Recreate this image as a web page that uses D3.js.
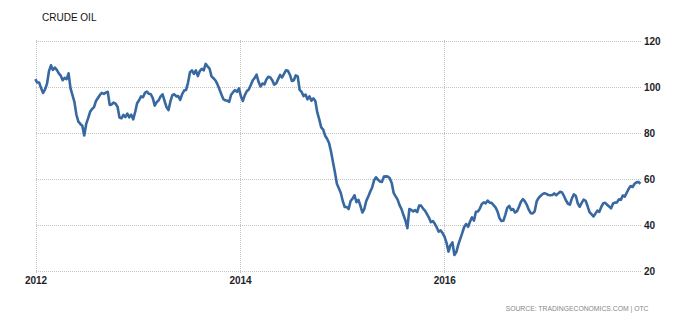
<!DOCTYPE html>
<html>
<head>
<meta charset="utf-8">
<script src="https://cdn.jsdelivr.net/npm/d3@7"></script>
<style>
  body { margin: 0; background: #fff; }
  #chart text { font-family: "Liberation Sans", Arial, sans-serif; }
</style>
</head>
<body>
<div id="chart"></div>
<script>
// weekly closes, first week starting 2012-01-02
const firstWeek = "2012-01-02";
const weeklyClose = [
  103, 101.5, 101.5, 99, 97, 98.5, 101, 106.5, 109, 107,
  108, 107, 105.5, 104.5, 102.5, 103.5, 103, 105.5, 99, 96,
  93, 87.5, 84.5, 83.5, 82.7, 78.5, 83.5, 86, 88.8, 90,
  90.8, 93.5, 94.8, 96.1, 97, 96.6, 97.1, 97.5, 91.8, 92,
  92.8, 92.3, 91, 86.3, 86, 87.4, 86.5, 88, 86.4, 87.5,
  85.5, 88.7, 92.5, 93.8, 95.5, 95.1, 97, 97.6, 96.6, 96.4,
  94.7, 91.5, 93, 93.8, 95.5, 96.4, 93.5, 90.8, 89.5, 93.3,
  96, 96.4, 95.5, 95.6, 94, 96.5, 98, 98.3, 101.5, 106,
  106.8, 105.3, 106.8, 104.3, 106.5, 107.5, 106.8, 109.6, 108.5, 107.5,
  104.2, 103.4, 102.4, 100.8, 98.7, 96.4, 94.3, 93.8, 93.6, 93.1,
  96.2, 97.3, 98.2, 97.5, 99, 95.5, 93.5, 96, 97.7, 98.5,
  100.3, 102.4, 103.5, 104.9, 101.8, 99.8, 101.1, 100.7, 102.8, 104,
  103.7, 102.5, 100.6, 101.1, 103, 104.8, 103.7, 105.3, 106.8, 106.6,
  104.9, 102.2, 102.5, 104.6, 104.2, 98.3, 97.4, 95.6, 96.3, 94.2,
  95.5, 93.6, 94.6, 93.5, 88.5, 85.5, 82, 81, 78.4, 77.1,
  75.2, 71.5, 67, 62.5, 57.5, 55.5, 53.5, 50, 47.4, 47.4,
  46.5, 50, 51, 52.5, 49.5, 50.5, 48, 45, 46.5, 50,
  51.9, 54, 55.9, 59, 60.3, 59.2, 58.5, 58.3, 60.6, 60.7,
  60.6, 59.9, 57.8, 53.5, 52, 50.6, 48.2, 46.5, 43.9, 41.5,
  38.2, 46.5, 46.1, 45.5, 46, 45.2, 48, 48, 46.7, 45.8,
  44.3, 42.8, 40.8, 41.3, 40.1, 38.5, 36.7, 37.2, 36, 34.4,
  31.8, 28, 30.8, 32, 26.5, 27.8, 31, 33.5, 36, 38.7,
  40, 38.8, 41.1, 42.9, 41.5, 45.3, 45.4, 46.7, 48.7, 49.4,
  49, 50.2, 49.3, 49.2, 48.2, 47.2, 45.5, 42.6, 41.3, 41.4,
  44, 47, 47.9, 46.1, 46.5, 45, 45.6, 47.5, 49.7, 50.8,
  49.8, 48.3, 46.2, 44.7, 44.6, 45.5, 49.8, 51.3, 52.2, 53,
  53.4, 53.1, 52.6, 52.5, 52.6, 53.3, 52.5, 53.3, 54, 53.7,
  52.1, 50.2, 48.8, 48.4, 51.1, 52.9, 52.2, 49, 47.5, 49.2,
  50.6, 50.1, 47.8, 45.2, 44.3, 43.3, 44.5, 45.8, 45.3, 47.4,
  49, 49.2, 48.4, 47.6, 46.8, 48.9, 49.3, 49.4, 50.7, 50.5,
  52.4, 51.9, 53.6, 55.3, 56.5, 56.1, 57.5, 58.1, 58.3, 57.5
];
const yTicks = [20, 40, 60, 80, 100, 120];
const xTickYears = [2012, 2014, 2016];
const title = "CRUDE OIL";
const source = "SOURCE: TRADINGECONOMICS.COM | OTC";

const width = 692,
  height = 322;
const plotLeft = 35,
  plotRight = 641,
  plotTop = 40,
  plotBottom = 270;

const parse = d3.timeParse("%Y-%m-%d");
const start = parse(firstWeek);
const data = weeklyClose.map((v, i) => ({ date: d3.timeDay.offset(start, i * 7), value: v }));

const x = d3
  .scaleTime()
  .domain([parse("2012-01-01"), parse("2017-12-06")])
  .range([plotLeft, plotRight]);
const y = d3.scaleLinear().domain([20, 120]).range([plotBottom, plotTop]);

const svg = d3
  .select("#chart")
  .append("svg")
  .attr("width", width)
  .attr("height", height);

// horizontal grid + right labels
const yAxis = svg
  .append("g")
  .attr("transform", `translate(${plotRight},0.5)`)
  .call(
    d3.axisRight(y)
      .tickValues(yTicks)
      .tickSize(-(plotRight - plotLeft))
      .tickPadding(3)
      .tickFormat(d3.format("d"))
  );

// vertical grid + year labels
const xAxis = svg
  .append("g")
  .attr("transform", `translate(0.5,${plotBottom + 3})`)
  .call(
    d3.axisBottom(x)
      .tickValues(xTickYears.map((yr) => new Date(yr, 0, 1)))
      .tickSize(-(plotBottom + 3 - plotTop))
      .tickPadding(4)
      .tickFormat(d3.timeFormat("%Y"))
  );

[yAxis, xAxis].forEach((g) => {
  g.select(".domain").remove();
  g.selectAll("line")
    .attr("stroke", "#c4c4c4")
    .attr("stroke-dasharray", "1,1")
    .attr("shape-rendering", "crispEdges");
  g.selectAll("text")
    .attr("fill", "#1e1e2a")
    .style("font-size", "10px")
    .style("font-weight", "bold");
});
yAxis.selectAll("text").attr("dy", "0.42em");

const line = d3
  .line()
  .x((d) => x(d.date))
  .y((d) => y(d.value));

svg
  .append("path")
  .datum(data)
  .attr("d", line)
  .attr("fill", "none")
  .attr("stroke", "#3768a0")
  .attr("stroke-width", 2.6)
  .attr("stroke-linejoin", "round");

svg
  .append("text")
  .attr("x", 42)
  .attr("y", 20.5)
  .attr("fill", "#111")
  .style("font-size", "10px")
  .text(title);

svg
  .append("text")
  .attr("x", 648.5)
  .attr("y", 311)
  .attr("text-anchor", "end")
  .attr("fill", "#888")
  .style("font-size", "6.8px")
  .text(source);
</script>
</body>
</html>
